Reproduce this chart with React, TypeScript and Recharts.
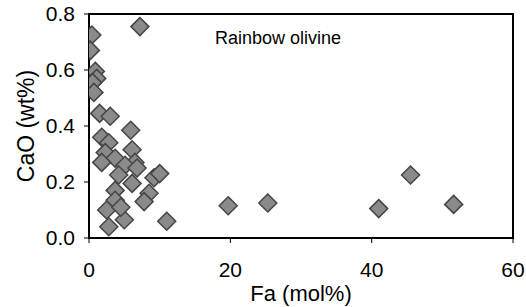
import React from 'react';
import { ScatterChart, Scatter, XAxis, YAxis, ReferenceArea, Label } from 'recharts';

const fa = [0.4, 0.2, 0.9, 1.1, 0.5, 0.7, 7.2, 1.5, 3.0, 5.9, 1.8, 2.8, 2.3, 6.1, 3.7, 6.5, 1.8, 5.1, 6.8, 4.2, 6.1, 9.2, 10.0, 3.7, 8.5, 3.7, 7.8, 2.5, 5.0, 2.8, 11.0, 4.5, 19.7, 25.3, 41.0, 45.5, 51.6];
const cao = [0.725, 0.67, 0.595, 0.57, 0.555, 0.52, 0.755, 0.445, 0.435, 0.385, 0.36, 0.34, 0.305, 0.315, 0.285, 0.27, 0.27, 0.26, 0.25, 0.225, 0.195, 0.215, 0.23, 0.17, 0.16, 0.135, 0.13, 0.1, 0.065, 0.04, 0.06, 0.11, 0.115, 0.125, 0.105, 0.225, 0.12];
const xTicks = [0, 20, 40, 60];
const yTicks = [0, 0.2, 0.4, 0.6, 0.8];
const title = 'Rainbow olivine';
const xLabel = 'Fa (mol%)';
const yLabel = 'CaO (wt%)';

const data = fa.map((x, i) => ({ fa: x, cao: cao[i] }));

const FONT = '"Liberation Sans", Arial, sans-serif';

const Diamond = (props: any) => {
  const { cx, cy } = props;
  const r = 9;
  return (
    <polygon
      points={`${cx},${cy - r} ${cx + r},${cy} ${cx},${cy + r} ${cx - r},${cy}`}
      fill="#8a8a8a"
      stroke="#454545"
      strokeWidth={1.5}
    />
  );
};

export default function App() {
  return (
    <div style={{ position: 'absolute', left: 0, top: 0, width: 526, height: 307, background: '#fff', fontFamily: FONT }}>
      <ScatterChart width={526} height={307} margin={{ top: 14, right: 13, bottom: 0, left: 0 }} style={{ fontFamily: FONT }}>
        <XAxis
          type="number"
          dataKey="fa"
          domain={[0, 60]}
          ticks={xTicks}
          interval={0}
          height={69}
          axisLine={{ stroke: '#000', strokeWidth: 2 }}
          tickLine={{ stroke: '#000', strokeWidth: 1 }}
          tickSize={5}
          tickMargin={19}
          tick={{ fill: '#000', fontSize: 21, fontFamily: FONT }}
          allowDataOverflow
        >
          <Label value={xLabel} position="insideBottom" offset={6} style={{ fontSize: 22, fill: '#000', fontFamily: FONT }} />
        </XAxis>
        <YAxis
          type="number"
          dataKey="cao"
          domain={[0, 0.8]}
          ticks={yTicks}
          interval={0}
          width={89}
          axisLine={{ stroke: '#000', strokeWidth: 2 }}
          tickLine={{ stroke: '#000', strokeWidth: 1 }}
          tickSize={5}
          tickMargin={9}
          tick={{ fill: '#000', fontSize: 21, fontFamily: FONT }}
          tickFormatter={(v: number) => v.toFixed(1)}
          allowDataOverflow
        >
          <Label value={yLabel} angle={-90} position="insideLeft" offset={26} style={{ fontSize: 23, fill: '#000', textAnchor: 'middle', fontFamily: FONT }} />
        </YAxis>
        <ReferenceArea x1={0} x2={60} y1={0} y2={0.8} fill="none" stroke="#000" strokeWidth={2} fillOpacity={0} />
        <Scatter data={data} shape={<Diamond />} isAnimationActive={false} />
      </ScatterChart>
      <div style={{ position: 'absolute', left: 215, top: 29, fontSize: 18, lineHeight: '18px', color: '#000', whiteSpace: 'nowrap' }}>
        {title}
      </div>
    </div>
  );
}
